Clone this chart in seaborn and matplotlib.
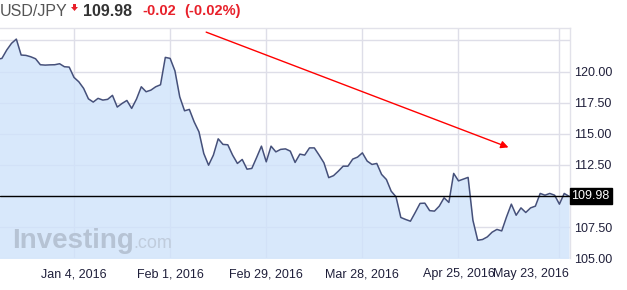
import numpy as np
import pandas as pd
import matplotlib
matplotlib.use("Agg")
import matplotlib.pyplot as plt
import matplotlib.transforms as mtransforms
from matplotlib.patches import Polygon
import seaborn as sns

# ---- data ----
prices = [120.98, 121.06, 121.73, 122.27, 122.61, 121.33, 121.30, 121.19, 121.03, 120.55,
          120.52, 120.54, 120.55, 120.63, 120.39, 120.36, 119.53, 119.18, 118.65, 117.81,
          117.55, 117.85, 117.71, 117.77, 118.09, 117.15, 117.44, 117.68, 117.04, 117.79,
          118.78, 118.38, 118.51, 118.78, 118.94, 121.14, 121.06, 120.06, 117.97, 116.85,
          116.96, 115.96, 115.16, 113.42, 112.48, 113.29, 114.60, 114.15, 114.12, 113.29,
          112.62, 112.94, 112.16, 112.22, 113.10, 114.01, 112.75, 114.01, 113.55, 113.75,
          113.79, 113.61, 112.70, 113.37, 113.29, 113.87, 113.87, 113.29, 112.67, 111.48,
          111.64, 112.00, 112.40, 112.40, 112.97, 113.13, 113.47, 112.81, 112.54, 112.62,
          111.74, 111.33, 110.39, 109.94, 108.28, 108.12, 107.98, 108.68, 109.41, 109.43,
          108.83, 108.79, 109.19, 109.86, 109.49, 111.82, 111.22, 111.36, 111.50, 108.06,
          106.45, 106.51, 106.72, 107.10, 107.32, 107.20, 108.33, 109.35, 108.46, 109.05,
          108.68, 109.05, 109.19, 110.21, 110.07, 110.21, 110.07, 109.35, 110.21, 109.98]
tick_session = [16, 36, 56, 76, 96, 117]
tick_labels = ["Jan 4, 2016", "Feb 1, 2016", "Feb 29, 2016", "Mar 28, 2016",
               "Apr 25, 2016", "May 23, 2016"]
y_ticks = [105.0, 107.5, 112.5, 115.0, 117.5, 120.0]
grid_levels = [105.0, 107.5, 110.0, 112.5, 115.0, 117.5, 120.0, 122.5]
last_price = 109.98
trend_start = (43.5, 123.17)
trend_end = (106.4, 113.91)

df = pd.DataFrame({"session": np.arange(len(prices)), "price": prices})

sns.set_theme(style="white")
plt.rcParams["font.family"] = ["Liberation Sans", "DejaVu Sans"]

fig = plt.figure(figsize=(6.27, 2.90), dpi=100)
ax = fig.add_axes([0, 0.1093, 0.9083, 0.7941])

# gridlines
for g in grid_levels:
    ax.axhline(g, color="#dedee8", lw=1, zorder=0)
for t in tick_session:
    ax.axvline(t, color="#dedee8", lw=1, zorder=0)

ax.fill_between(df["session"], df["price"], 100, color="#cfe3fb", alpha=0.8, lw=0, zorder=1)
sns.lineplot(data=df, x="session", y="price", ax=ax, color="#45507a", lw=1.1, zorder=3)
ax.axhline(last_price, color="black", lw=1, zorder=4)

ax.set_xlim(0.6, 119.1)
ax.set_ylim(105, 123.5)
ax.set_xlabel("")
ax.set_ylabel("")

ax.set_xticks(tick_session)
ax.set_xticklabels(tick_labels)
ax.yaxis.tick_right()
ax.set_yticks(y_ticks)
ax.set_yticklabels([f"{v:.2f}" for v in y_ticks])
ax.tick_params(axis="x", length=0, pad=7, labelsize=9, labelcolor="#1f1f3a")
ax.tick_params(axis="y", length=0, pad=3, labelsize=9, labelcolor="#1f1f3a")

# shift last x label so it ends at plot edge
lbls = ax.get_xticklabels()
lbls[-1].set_horizontalalignment("right")
lbls[-1].set_transform(lbls[-1].get_transform() +
                       mtransforms.ScaledTranslation(9 / 100, 0, fig.dpi_scale_trans))

for s in ["left", "bottom"]:
    ax.spines[s].set_visible(False)
for s in ["top", "right"]:
    ax.spines[s].set_color("#e2e2ea")
    ax.spines[s].set_linewidth(1)

# price box
trans = mtransforms.blended_transform_factory(ax.transAxes, ax.transData)
ax.text(1.0, last_price, f"{last_price:.2f}", transform=trans +
        mtransforms.ScaledTranslation(2 / 100, 0, fig.dpi_scale_trans),
        ha="left", va="center", color="white", fontsize=9, clip_on=False, zorder=6,
        bbox=dict(boxstyle="square,pad=0.15", fc="black", ec="black"))

# trend arrow
ax.annotate("", xy=trend_end, xytext=trend_start,
            arrowprops=dict(arrowstyle="-|>", color="red", lw=1, mutation_scale=11,
                            shrinkA=0, shrinkB=0), zorder=5)

# header
H = 290.0
W = 627.0
fig.text(0 / W, 1 - 11 / H, "USD/JPY", fontsize=11.5, color="#555555", va="center", ha="left")
arrow_pts = [(73, 4), (76, 4), (76, 7), (78, 7), (74.5, 11), (71, 7), (73, 7)]
fig.patches.append(Polygon([(x / W, 1 - y / H) for x, y in arrow_pts], closed=True,
                           transform=fig.transFigure, fc="#e8202a", ec="none"))
fig.text(83 / W, 1 - 11 / H, f"{last_price:.2f}", fontsize=11.5, color="#333333",
         fontweight="bold", va="center", ha="left")
fig.text(142 / W, 1 - 11 / H, "-0.02", fontsize=10.5, color="#e8202a",
         fontweight="bold", va="center", ha="left")
fig.text(184 / W, 1 - 11 / H, "(-0.02%)", fontsize=10.5, color="#e8202a",
         fontweight="bold", va="center", ha="left")

# watermark
fig.text(12 / W, 1 - 248 / H, "Investing", fontsize=20, fontweight="bold",
         color="#b6c3d4", va="baseline", ha="left")
fig.text(133 / W, 1 - 248 / H, ".com", fontsize=13, color="#c0ccdc",
         va="baseline", ha="left")

fig.savefig("out.png", dpi=100)
